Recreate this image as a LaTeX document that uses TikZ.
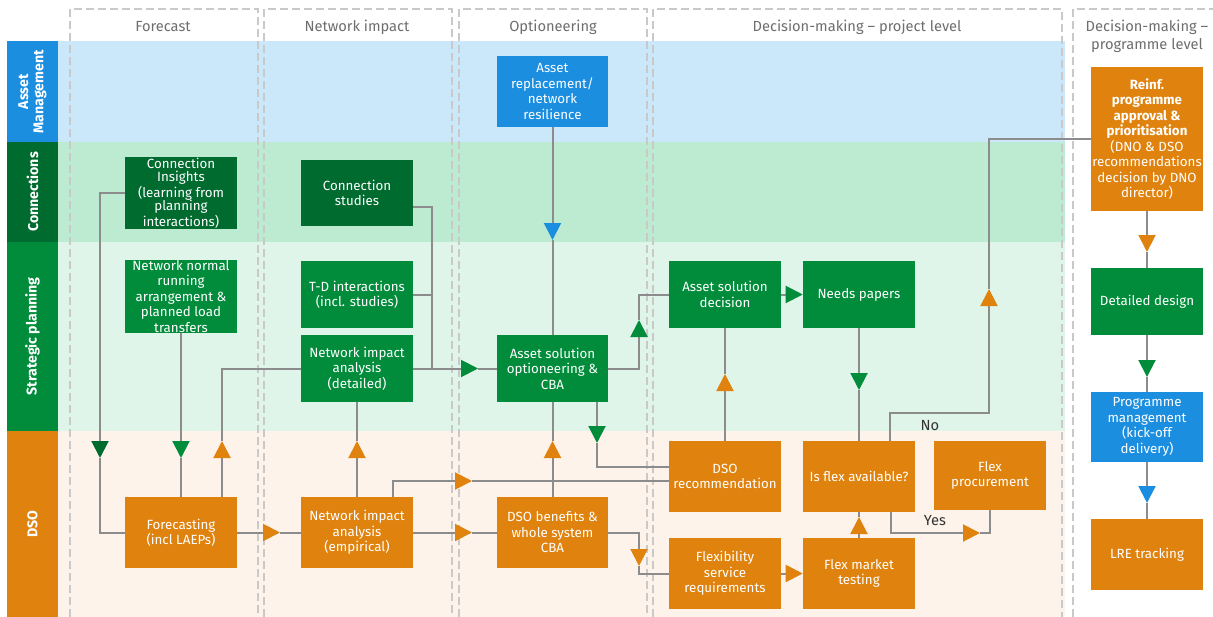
\documentclass[tikz,border=0pt]{standalone}
\usepackage{fontspec}
\setmainfont{Fira Sans}
\usetikzlibrary{arrows.meta}

\definecolor{amblue}{HTML}{1B8EE0}
\definecolor{amband}{HTML}{CBE8FB}
\definecolor{cndark}{HTML}{006B2F}
\definecolor{cnband}{HTML}{BDEBD1}
\definecolor{spgreen}{HTML}{008C3A}
\definecolor{spband}{HTML}{DFF5E9}
\definecolor{dsoorange}{HTML}{E0820E}
\definecolor{dsoband}{HTML}{FDF3EA}
\definecolor{linegrey}{HTML}{8C8C8C}
\definecolor{dashgrey}{HTML}{C9C9C9}
\definecolor{headgrey}{HTML}{6E6E6E}

\begin{document}
\begin{tikzpicture}[x=0.75pt, y=-0.75pt,
    box/.style={fill=#1, text=white, minimum width=84pt, minimum height=53.25pt,
        inner sep=0pt, align=center, font=\fontsize{10}{11.6}\selectfont},
    short/.style={minimum height=50.25pt},
    lanelabel/.style={fill=#1, text=white, minimum height=38.25pt, inner sep=0pt,
        align=center, rotate=90, font=\fontsize{10.6}{11.4}\selectfont\bfseries},
    header/.style={text=headgrey, align=center, font=\fontsize{11}{13.5}\selectfont},
    coldash/.style={draw=dashgrey, line width=1.1pt, dash pattern=on 6pt off 3pt},
    flow/.style={draw=linegrey, line width=1.5pt},
    feed/.style={flow, -{Triangle[length=12.75pt, width=12.75pt, color=#1]}},
    answer/.style={text=black!80, font=\fontsize{11}{13}\selectfont}]

    \useasboundingbox (0,0) rectangle (1213,617);
    \fill[white] (0,0) rectangle (1213,617);

% lanes
    \fill[amband] (58,41) rectangle (1065,142);
    \fill[cnband] (58,142) rectangle (1065,242);
    \fill[spband] (58,242) rectangle (1065,431);
    \fill[dsoband] (58,431) rectangle (1065,617);

    \node[lanelabel=amblue, minimum width=75.75pt] (lam) at (32.5,91.5) {Asset\\Management};
    \node[lanelabel=cndark, minimum width=75pt] (lcn) at (32.5,192) {Connections};
    \node[lanelabel=spgreen, minimum width=141.75pt] (lsp) at (32.5,336.5) {Strategic planning};
    \node[lanelabel=dsoorange, minimum width=139.5pt] (ldso) at (32.5,524) {DSO};

% columns
    \draw[coldash] (70,617) -- (70,9) -- (258,9) -- (258,617);
    \draw[coldash] (264,617) -- (264,9) -- (452,9) -- (452,617);
    \draw[coldash] (459,617) -- (459,9) -- (647,9) -- (647,617);
    \draw[coldash] (653,617) -- (653,9) -- (1062,9) -- (1062,617);
    \draw[coldash] (1073,617) -- (1073,9) -- (1213,9);

    \node[header] (hfc) at (163,27) {Forecast};
    \node[header] (hni) at (357,27) {Network impact};
    \node[header] (hop) at (553,27) {Optioneering};
    \node[header] (hdp) at (857,27) {Decision-making – project level};
    \node[header] (hdg) at (1147,36) {Decision-making –\\programme level};

% boxes
    \node[box=cndark, minimum height=54pt, font=\fontsize{10}{10}\selectfont] (cins) at (181,193)
        {Connection\\Insights\\(learning from\\planning\\interactions)};
    \node[box=cndark, minimum height=49.5pt] (cstud) at (357,193) {Connection\\studies};
    \node[box=amblue, minimum width=83.25pt] (arepl) at (552.5,91.5)
        {Asset\\replacement/\\network\\resilience};
    \node[box=dsoorange, minimum height=108pt] (reinf) at (1147,139)
        {\textbf{Reinf.}\\\textbf{programme}\\\textbf{approval \&}\\\textbf{prioritisation}\\(DNO \& DSO\\recommendations\\decision by DNO\\director)};

    \node[box=spgreen] (netnorm) at (181,296.5)
        {Network normal\\running\\arrangement \&\\planned load\\transfers};
    \node[box=spgreen, short] (tdint) at (357,294.5) {T-D interactions\\(incl. studies)};
    \node[box=spgreen, short] (niadet) at (357,368.5) {Network impact\\analysis\\(detailed)};
    \node[box=spgreen, short, minimum width=83.25pt] (asopt) at (552.5,368.5)
        {Asset solution\\optioneering \&\\CBA};
    \node[box=spgreen, short] (asdec) at (725,294.5) {Asset solution\\decision};
    \node[box=spgreen, short] (needs) at (859,294.5) {Needs papers};
    \node[box=spgreen, short] (design) at (1147,301.5) {Detailed design};
    \node[box=amblue, minimum height=52.5pt] (progm) at (1147,427)
        {Programme\\management\\(kick-off\\delivery)};
    \node[box=dsoorange] (lre) at (1147,554.5) {LRE tracking};

    \node[box=dsoorange] (fcast) at (181,532.5) {Forecasting\\(incl LAEPs)};
    \node[box=dsoorange] (niaemp) at (357,532.5) {Network impact\\analysis\\(empirical)};
    \node[box=dsoorange, minimum width=83.25pt] (dsoben) at (552.5,532.5)
        {DSO benefits \&\\whole system\\CBA};
    \node[box=dsoorange] (dsorec) at (725,476.5) {DSO\\recommendation};
    \node[box=dsoorange] (flexserv) at (725,573.5) {Flexibility\\service\\requirements};
    \node[box=dsoorange] (isflex) at (859,476.5) {Is flex available?};
    \node[box=dsoorange, minimum height=51.75pt] (flexproc) at (990,475.5) {Flex\\procurement};
    \node[box=dsoorange] (flexmkt) at (859,573.5) {Flex market\\testing};

% forecast links
    \coordinate (A1) at (100,458);
    \draw[feed=cndark] (cins.west) -| (A1);
    \draw[flow] (A1) |- (fcast.west);

    \coordinate (A2) at (181,458);
    \draw[feed=spgreen] (netnorm.south) -- (A2);
    \draw[flow] (A2) -- (fcast.north);

    \coordinate (A3) at (222,441);
    \draw[feed=dsoorange] (A3 |- fcast.north) -- (A3);
    \draw[flow] (A3) |- (niadet.west);

    \coordinate (A4) at (280,532.5);
    \draw[feed=dsoorange] (fcast.east) -- (A4);
    \draw[flow] (A4) -- (niaemp.west);

% network impact links
    \coordinate (A5) at (357,441);
    \draw[feed=dsoorange] (niaemp.north) -- (A5);
    \draw[flow] (A5) -- (niadet.south);

    \coordinate (B6) at (393,481);
    \coordinate (A6) at (472,481);
    \draw[feed=dsoorange] (B6 |- niaemp.north) -- (B6) -- (A6);
    \draw[flow] (A6) -- (A6 -| dsorec.west);

    \coordinate (A7) at (472,532.5);
    \draw[feed=dsoorange] (niaemp.east) -- (A7);
    \draw[flow] (A7) -- (dsoben.west);

    \coordinate (B13) at (432,368.5);
    \coordinate (A13) at (478,368.5);
    \draw[flow] ([yshift=-10.5pt]cstud.east) -| (B13);
    \draw[flow] (tdint.east) -- (tdint.east -| B13);
    \draw[feed=spgreen] (niadet.east) -- (A13);
    \draw[flow] (A13) -- (asopt.west);

% optioneering links
    \coordinate (A14) at (552.5,240);
    \draw[feed=amblue] (arepl.south) -- (A14);
    \draw[flow] (A14) -- (asopt.north);

    \coordinate (A8) at (552.5,441);
    \draw[feed=dsoorange] (dsoben.north) -- (A8);
    \draw[flow] (A8) -- (asopt.south);

    \coordinate (A9) at (639,566);
    \draw[feed=dsoorange] (dsoben.east) -| (A9);
    \draw[flow] (A9) |- (flexserv.west);

    \coordinate (A10) at (597,443);
    \draw[feed=spgreen] (A10 |- asopt.south) -- (A10);
    \draw[flow] (A10) |- ([yshift=7pt]dsorec.west);

    \coordinate (A12) at (639,320);
    \draw[feed=spgreen] (asopt.east) -| (A12);
    \draw[flow] (A12) |- (asdec.west);

% project level links
    \coordinate (A11) at (725,374);
    \draw[feed=dsoorange] (dsorec.north) -- (A11);
    \draw[flow] (A11) -- (asdec.south);

    \draw[feed=spgreen] (asdec.east) -- (needs.west);

    \coordinate (A16) at (859,390);
    \draw[feed=spgreen] (needs.south) -- (A16);
    \draw[flow] (A16) -- (isflex.north);

    \coordinate (B17) at (890,413);
    \coordinate (A17) at (989,289);
    \draw[feed=dsoorange] (B17 |- isflex.north) -- (B17) -| (A17);
    \draw[flow] (A17) |- (reinf.west);
    \node[answer] (no) at (930,426) {No};

    \coordinate (A18) at (859,517);
    \draw[feed=dsoorange] (flexmkt.north) -- (A18);
    \draw[flow] (A18) -- (isflex.south);

    \coordinate (B19) at (891,533);
    \coordinate (A19) at (980,533);
    \draw[feed=dsoorange] (B19 |- isflex.south) -- (B19) -- (A19);
    \draw[flow] (A19) -| (flexproc.south);
    \node[answer] (yes) at (935,521) {Yes};

    \draw[feed=dsoorange] (flexserv.east) -- (flexmkt.west);

% programme level links
    \coordinate (A21) at (1147,252);
    \draw[feed=dsoorange] (reinf.south) -- (A21);
    \draw[flow] (A21) -- (design.north);

    \coordinate (A22) at (1147,377);
    \draw[feed=spgreen] (design.south) -- (A22);
    \draw[flow] (A22) -- (progm.north);

    \coordinate (A23) at (1147,503);
    \draw[feed=amblue] (progm.south) -- (A23);
    \draw[flow] (A23) -- (lre.north);

\end{tikzpicture}
\end{document}
